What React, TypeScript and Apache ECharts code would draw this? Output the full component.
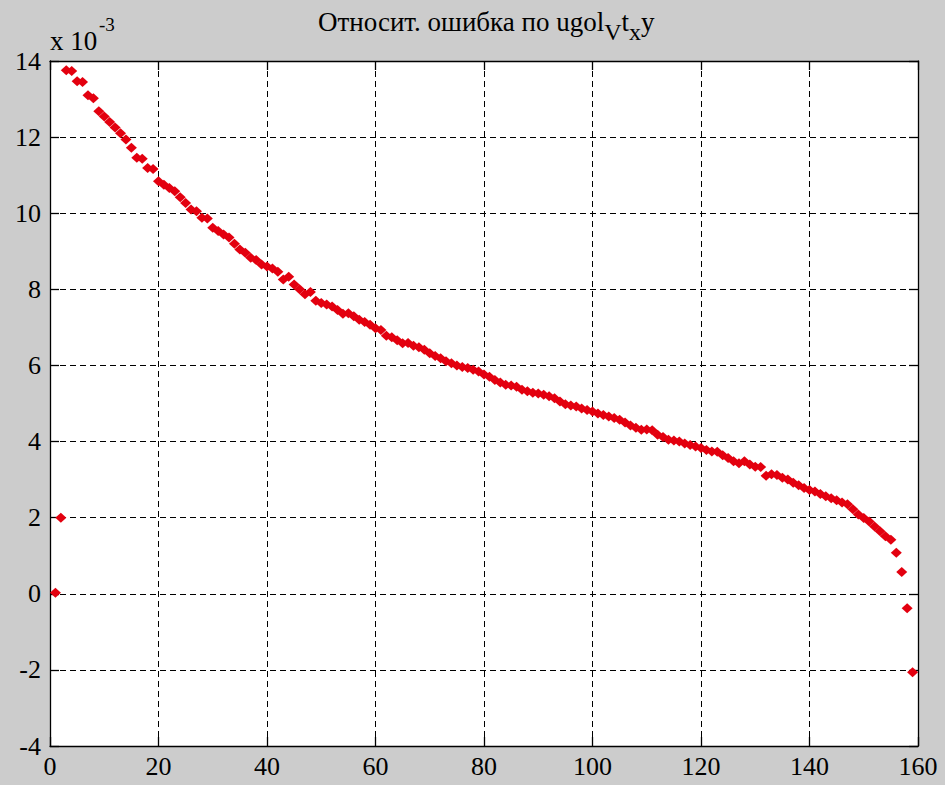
import React, { useEffect, useRef } from "react";
import * as echarts from "echarts";

// Relative error (x 10^-3) for each sample index 1..159
const errorValues: number[] = [
  0.03, 2.0, 13.76, 13.74, 13.47, 13.45, 13.1, 13.02, 12.68, 12.54,
  12.4, 12.25, 12.1, 11.94, 11.72, 11.46, 11.43, 11.19, 11.16, 10.84,
  10.75, 10.66, 10.58, 10.42, 10.27, 10.1, 10.05, 9.88, 9.86, 9.62,
  9.53, 9.44, 9.36, 9.2, 9.05, 8.96, 8.83, 8.77, 8.65, 8.6,
  8.55, 8.46, 8.26, 8.33, 8.13, 8.0, 7.87, 7.93, 7.7, 7.64,
  7.6, 7.55, 7.46, 7.36, 7.37, 7.29, 7.2, 7.14, 7.07, 6.98,
  6.93, 6.78, 6.74, 6.66, 6.58, 6.59, 6.52, 6.48, 6.41, 6.32,
  6.25, 6.19, 6.11, 6.06, 6.0, 5.96, 5.93, 5.89, 5.84, 5.76,
  5.7, 5.62, 5.55, 5.49, 5.47, 5.44, 5.36, 5.32, 5.28, 5.26,
  5.23, 5.19, 5.14, 5.05, 4.98, 4.95, 4.92, 4.87, 4.83, 4.79,
  4.74, 4.7, 4.66, 4.62, 4.57, 4.5, 4.42, 4.36, 4.31, 4.32,
  4.3, 4.18, 4.12, 4.05, 4.03, 4.0, 3.95, 3.91, 3.87, 3.83,
  3.78, 3.74, 3.73, 3.64, 3.57, 3.48, 3.43, 3.48, 3.4, 3.34,
  3.33, 3.1, 3.14, 3.12, 3.05, 3.0, 2.92, 2.85, 2.78, 2.73,
  2.69, 2.62, 2.56, 2.51, 2.46, 2.4, 2.35, 2.22, 2.08, 1.99,
  1.9, 1.77, 1.64, 1.51, 1.42, 1.08, 0.57, -0.38, -2.06,
];

const xTicks = { min: 0, max: 160, interval: 20 };
const yTicks = { min: -4, max: 14, interval: 2 };

const titleText = "{n|Относит. ошибка по ugol}{s|V}{n|t}{s|x}{n|y}";
const scaleMain = "x 10";
const scaleExp = "-3";

const FONT = "Liberation Serif, Times New Roman, DejaVu Serif, serif";

export default function App() {
  const ref = useRef<HTMLDivElement>(null);

  useEffect(() => {
    if (!ref.current) return;
    const chart = echarts.init(ref.current, null, { renderer: "svg" });
    const points = errorValues.map((v, i) => [i + 1, v]);

    const gridLine = {
      show: true,
      lineStyle: { color: "#000", type: [6, 4] as any, width: 1 },
    };
    const axisLine = {
      show: true,
      onZero: false,
      lineStyle: { color: "#000", width: 1.3 },
    };
    const tick = {
      show: true,
      inside: true,
      length: 9,
      lineStyle: { color: "#000", width: 1.3 },
    };

    chart.setOption({
      animation: false,
      backgroundColor: "#cccccc",
      textStyle: { fontFamily: FONT },
      title: {
        text: titleText,
        left: 313,
        top: 3,
        textStyle: {
          fontFamily: FONT,
          fontWeight: "normal",
          rich: {
            n: {
              fontFamily: FONT,
              fontWeight: "normal",
              fontSize: 27,
              color: "#000",
              lineHeight: 28,
            },
            s: {
              fontFamily: FONT,
              fontWeight: "normal",
              fontSize: 24,
              color: "#000",
              lineHeight: 24,
              padding: [20, 0, 0, 0],
            },
          },
        },
      },
      graphic: [
        {
          type: "text",
          x: 50,
          y: 41,
          style: {
            text: scaleMain,
            fontFamily: FONT,
            fontSize: 27,
            fill: "#000",
            verticalAlign: "middle",
            align: "left",
          },
        },
        {
          type: "text",
          x: 99,
          y: 24,
          style: {
            text: scaleExp,
            fontFamily: FONT,
            fontSize: 19,
            fill: "#000",
            verticalAlign: "middle",
            align: "left",
          },
        },
      ],
      grid: {
        left: 50,
        top: 61,
        right: 27,
        bottom: 39,
        show: true,
        backgroundColor: "#ffffff",
        borderWidth: 0,
      },
      xAxis: [
        {
          type: "value",
          position: "bottom",
          ...xTicks,
          axisLine,
          axisTick: tick,
          splitLine: gridLine,
          axisLabel: {
            margin: 7,
            fontFamily: FONT,
            fontSize: 26,
            color: "#000",
          },
        },
        {
          type: "value",
          position: "top",
          ...xTicks,
          axisLine,
          axisTick: tick,
          splitLine: { show: false },
          axisLabel: { show: false },
        },
      ],
      yAxis: [
        {
          type: "value",
          position: "left",
          ...yTicks,
          axisLine,
          axisTick: tick,
          splitLine: gridLine,
          axisLabel: {
            margin: 9,
            fontFamily: FONT,
            fontSize: 26,
            color: "#000",
          },
        },
        {
          type: "value",
          position: "right",
          ...yTicks,
          axisLine,
          axisTick: tick,
          splitLine: { show: false },
          axisLabel: { show: false },
        },
      ],
      series: [
        {
          type: "scatter",
          data: points,
          symbol: "diamond",
          symbolSize: [11, 10],
          itemStyle: { color: "#e3000f", opacity: 1 },
          z: 5,
        },
      ],
    });

    return () => chart.dispose();
  }, []);

  return (
    <div
      ref={ref}
      style={{ position: "absolute", left: 0, top: 0, width: 945, height: 785 }}
    />
  );
}
